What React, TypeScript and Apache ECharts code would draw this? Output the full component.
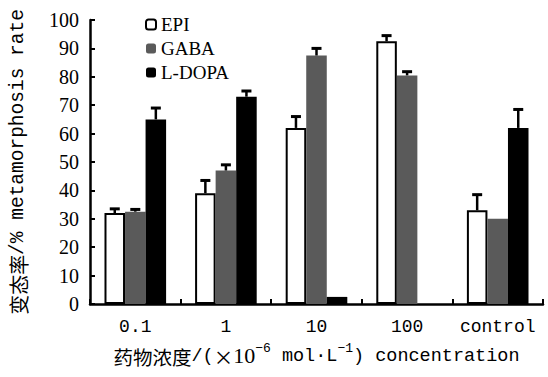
import React, { useEffect, useRef } from "react";
import * as echarts from "echarts";

const categories = ["0.1", "1", "10", "100", "control"];
const seriesNames = ["EPI", "GABA", "L-DOPA"];
const epi = [32, 39, 62, 92.5, 33];
const epiErr = [1.5, 4.5, 4, 2, 5.5];
const gaba = [32.5, 47, 87.5, 80.5, 30];
const gabaErr = [0.8, 2, 2.5, 1.3, 0];
const ldopa = [65, 73, 2.5, 0, 62];
const ldopaErr = [4, 2, 0, 0, 6.5];
const yTicks = [0, 10, 20, 30, 40, 50, 60, 70, 80, 90, 100];

const MONO = "'Liberation Mono', 'Noto Sans CJK SC', monospace";
const SERIF = "'Liberation Serif', serif";
const CJK = "'Noto Sans CJK SC', sans-serif";
const GAP = 0.32;

export default function App() {
  const ref = useRef<HTMLDivElement>(null);
  useEffect(() => {
    if (!ref.current) return;
    const chart = echarts.init(ref.current, null, { renderer: "svg" });
    const values = [epi, gaba, ldopa];
    const errs = [epiErr, gabaErr, ldopaErr];
    const errData: number[][] = [];
    values.forEach((vals, s) => {
      vals.forEach((v, i) => {
        if (errs[s][i] > 0) errData.push([i, v, errs[s][i], s]);
      });
    });
    const colors = ["#ffffff", "#5a5a5a", "#000000"];
    chart.setOption({
      animation: false,
      grid: { left: 89, right: 5, top: 20, bottom: 73, containLabel: false },
      legend: {
        orient: "vertical",
        left: 140,
        top: 10,
        itemWidth: 10,
        itemHeight: 10,
        itemGap: 5,
        data: seriesNames,
        textStyle: { fontFamily: SERIF, fontSize: 19, color: "#000" },
      },
      xAxis: {
        type: "category",
        data: categories,
        axisLine: { lineStyle: { color: "#000", width: 2.5 } },
        axisTick: { show: true, inside: true, length: 5, lineStyle: { width: 2, color: "#000" } },
        axisLabel: { fontFamily: MONO, fontSize: 18, color: "#000", margin: 14, interval: 0 },
        name: "{c|药物浓度}{a|/(}{c|×}{t|10}{s|−6}{a| mol·L}{s|−1}{a|) concentration}",
        nameLocation: "middle",
        nameGap: 38,
        nameTextStyle: {
          rich: {
            c: { fontFamily: CJK, fontSize: 19.5, color: "#000", lineHeight: 24, verticalAlign: "bottom" },
            a: { fontFamily: MONO, fontSize: 18.5, color: "#000", lineHeight: 24, verticalAlign: "bottom" },
            t: { fontFamily: SERIF, fontSize: 22, color: "#000", lineHeight: 24, verticalAlign: "bottom" },
            s: { fontFamily: MONO, fontSize: 13, color: "#000", lineHeight: 24, verticalAlign: "top" },
          },
        },
      },
      yAxis: {
        type: "value",
        min: 0,
        max: 100,
        interval: 10,
        axisLine: { show: true, lineStyle: { color: "#000", width: 2.5 } },
        axisTick: { show: true, inside: true, length: 5, lineStyle: { width: 2, color: "#000" } },
        axisLabel: {
          fontFamily: SERIF,
          fontSize: 20,
          color: "#000",
          margin: 11,
          formatter: (v: number) => (yTicks.includes(v) ? String(v) : ""),
        },
        splitLine: { show: false },
        name: "{c|变态率}{a|/% metamorphosis rate}",
        nameLocation: "middle",
        nameRotate: 90,
        nameGap: 60,
        nameTextStyle: {
          rich: {
            c: { fontFamily: CJK, fontSize: 20, color: "#000", lineHeight: 24 },
            a: { fontFamily: MONO, fontSize: 19.5, color: "#000", lineHeight: 24 },
          },
        },
      },
      series: [
        ...seriesNames.map((name, s) => ({
          name,
          type: "bar",
          data: values[s],
          barGap: "0%",
          barCategoryGap: GAP * 100 + "%",
          itemStyle: {
            color: colors[s],
            borderColor: "#000",
            borderWidth: s === 0 ? 2 : 0,
          },
        })),
        {
          type: "custom",
          name: "err",
          z: 5,
          data: errData,
          encode: { x: 0, y: 1 },
          renderItem: (params: any, api: any) => {
            const x = api.value(0);
            const v = api.value(1);
            const e = api.value(2);
            const s = api.value(3);
            const base = api.coord([x, v]);
            const top = api.coord([x, v + e]);
            const catW = api.size([1, 0])[0];
            const bw = (catW * (1 - GAP)) / 3;
            const cx = base[0] + (s - 1) * bw;
            return {
              type: "group",
              children: [
                {
                  type: "line",
                  shape: { x1: cx, y1: base[1], x2: cx, y2: top[1] },
                  style: { stroke: "#000", lineWidth: 2.5 },
                },
                {
                  type: "line",
                  shape: { x1: cx - 5, y1: top[1], x2: cx + 5, y2: top[1] },
                  style: { stroke: "#000", lineWidth: 3 },
                },
              ],
            };
          },
        },
      ],
    });
    return () => chart.dispose();
  }, []);
  return <div ref={ref} style={{ width: 548, height: 377, position: "absolute", left: 0, top: 0, background: "#fff" }} />;
}
